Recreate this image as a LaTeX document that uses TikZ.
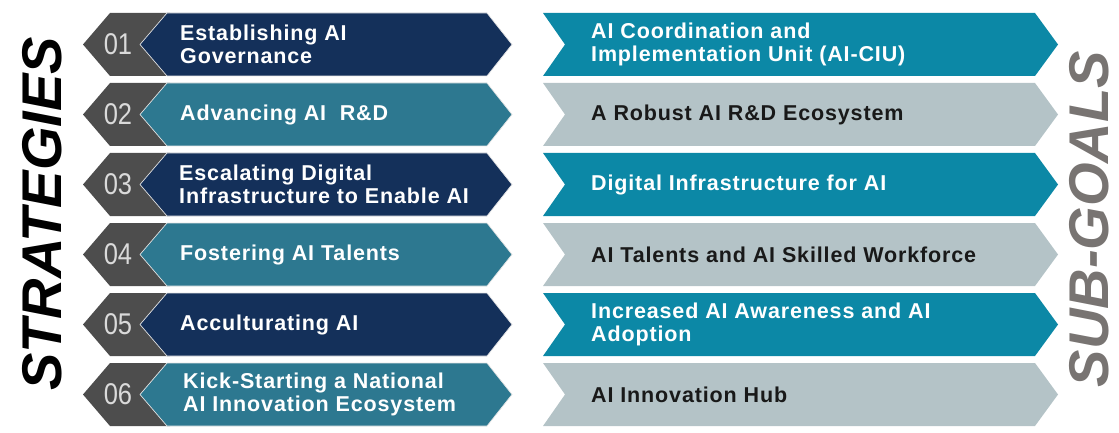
\documentclass[tikz,border=0pt]{standalone}
\usepackage{fontspec}
\setmainfont{Liberation Sans}
\newfontfamily\labelfont[LetterSpace=4]{Liberation Sans}
\newfontfamily\numfont[FakeStretch=0.85]{Liberation Sans}
\definecolor{navy}{HTML}{14305A}
\definecolor{stratteal}{HTML}{2D7890}
\definecolor{goalteal}{HTML}{0C88A6}
\definecolor{goalgray}{HTML}{B4C3C7}
\definecolor{tabgray}{HTML}{4D4D4D}
\definecolor{numgray}{HTML}{DADADA}
\definecolor{titlegray}{HTML}{787472}
\begin{document}
\begin{tikzpicture}[x=1pt, y=-1pt,
  label node/.style={anchor=west, align=left, inner sep=0pt, font=\labelfont\bfseries\fontsize{21.5}{22.5}\selectfont},
  strat node/.style={label node, text=white},
  goal node/.style={label node, text=black!90},
  num node/.style={inner sep=0pt, text=numgray, font=\numfont\fontsize{30}{30}\selectfont},
  title node/.style={inner sep=0pt, rotate=90, font=\bfseries\itshape\fontsize{56}{56}\selectfont}]
\useasboundingbox (0,0) rectangle (1119,433);
% one row of chevrons per strategy: number tab, strategy, sub-goal
\foreach \i/\sc/\gc in {1/navy/goalteal, 2/stratteal/goalgray, 3/navy/goalteal,
                        4/stratteal/goalgray, 5/navy/goalteal, 6/stratteal/goalgray}{
  \pgfmathsetmacro\T{13+70*(\i-1)}
  \pgfmathsetmacro\M{\T+31.5}
  \pgfmathsetmacro\B{\T+63}
  \fill[tabgray] (110,\T) -- (170,\T) -- (170,\B) -- (110,\B) -- (83,\M) -- cycle;
  \filldraw[fill=\sc, draw=white!80!gray, line width=0.7pt] (167,\T) -- (487,\T) -- (512,\M) -- (487,\B) -- (167,\B) -- (140,\M) -- cycle;
  \fill[\gc] (543,\T) -- (1035,\T) -- (1058,\M) -- (1035,\B) -- (543,\B) -- (565,\M) -- cycle;
}
\begin{scope}
\node[num node] (n1) at (118,44.5) {01};
\node[num node] (n2) at (118,114.5) {02};
\node[num node] (n3) at (118,184.5) {03};
\node[num node] (n4) at (118,254.5) {04};
\node[num node] (n5) at (118,324.5) {05};
\node[num node] (n6) at (118,394.5) {06};
\end{scope}
\begin{scope}
\node[strat node] (s1) at (180,44.5) {Establishing AI\\Governance};
\node[strat node] (s2) at (180,114.5) {Advancing AI~~R\&D};
\node[strat node] (s3) at (179,184.5) {Escalating Digital\\Infrastructure to Enable AI};
\node[strat node] (s4) at (180,254.5) {Fostering AI Talents};
\node[strat node] (s5) at (180,324.5) {Acculturating AI};
\node[strat node] (s6) at (183,394.5) {Kick-Starting a National\\AI Innovation Ecosystem};
\end{scope}
\begin{scope}
\node[goal node, text=white] (g1) at (591,44.5) {AI Coordination and\\Implementation Unit (AI-CIU)};
\node[goal node] (g2) at (591,114.5) {A Robust AI R\&D Ecosystem};
\node[goal node, text=white] (g3) at (591,184.5) {Digital Infrastructure for AI};
\node[goal node] (g4) at (591,254.5) {AI Talents and AI Skilled Workforce};
\node[goal node, text=white] (g5) at (591,324.5) {Increased AI Awareness and AI\\Adoption};
\node[goal node] (g6) at (591,394.5) {AI Innovation Hub};
\end{scope}
\node[title node, text=black] (strategies) at (42,214) {STRATEGIES};
\node[title node, text=titlegray] (subgoals) at (1089,219) {SUB-GOALS};
\end{tikzpicture}
\end{document}
